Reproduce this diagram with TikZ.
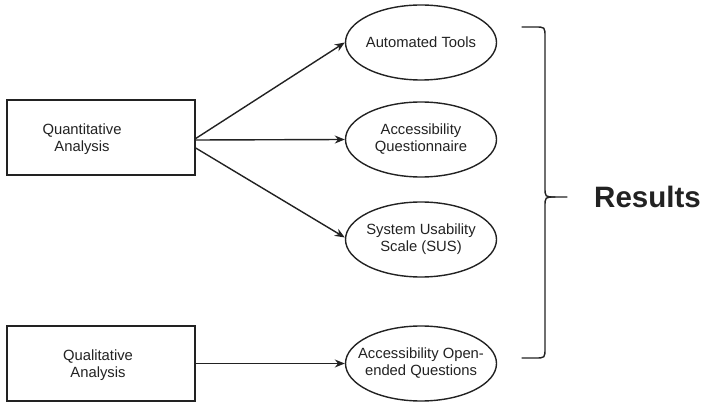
\documentclass[tikz,border=0pt]{standalone}
\usepackage{fontspec}
\setmainfont{Liberation Sans}
\usetikzlibrary{shapes.geometric,arrows.meta}
\definecolor{ink}{HTML}{222222}
\begin{document}
\begin{tikzpicture}[x=1pt,y=-1pt,
  every node/.style={text=ink},
  lbl/.style={font=\fontsize{14.8}{17}\selectfont, align=center},
  box/.style={draw=ink, line width=1.4pt, rectangle, minimum width=188pt, minimum height=75pt, inner sep=0pt},
  oval/.style={draw=ink, line width=1.4pt, ellipse, minimum width=151pt, minimum height=75pt, inner sep=0pt},
  arr/.style={draw=ink, line width=1.4pt, -{Stealth[length=10pt,width=8pt]}},
  brace/.style={draw=ink, line width=1.4pt, line cap=round}]
\useasboundingbox (0,0) rectangle (704,403);
% boxes
\node[box, label={[lbl, xshift=-19pt, yshift=-1.5pt]center:Quantitative\\Analysis}] (qn) at (101,137.5) {};
\node[box, label={[lbl, xshift=-3pt, yshift=-2pt]center:Qualitative\\Analysis}] (ql) at (101,363.5) {};
% ellipses
\node[oval, label={[lbl]center:Automated Tools}] (at) at (421,42.5) {};
\node[oval, label={[lbl]center:Accessibility\\Questionnaire}] (aq) at (421,139.5) {};
\node[oval, label={[lbl]center:System Usability\\Scale (SUS)}] (sus) at (421,239.5) {};
\node[oval, label={[lbl]center:Accessibility Open-\\ended Questions}] (oe) at (421,363.5) {};
% arrows
\draw[arr] ([yshift=-1pt]qn.east) -- (at.west);
\draw[arr] ([yshift=-0.5pt]qn.east |- aq.west) -- (aq.west);
\draw[arr] ([yshift=-10.5pt]qn.east) -- ([yshift=2pt]sus.west);
\draw[arr] (ql.east) -- (oe.west);
% brace
\coordinate (bt) at (522,27);
\coordinate (bm) at (567,197);
\coordinate (bb) at (522,358);
\draw[brace] (bt) -- (535,27) .. controls (545,27) .. (545,37) -- (545,187)
  .. controls (545,197) .. (555,197) -- (bm);
\draw[brace] (555,197) .. controls (545,197) .. (545,207) -- (545,348)
  .. controls (545,358) .. (535,358) -- (bb);
\node[font=\fontsize{29.5}{31}\selectfont\bfseries, anchor=west, inner sep=0pt] (res) at (594,197) {Results};
\end{tikzpicture}
\end{document}
